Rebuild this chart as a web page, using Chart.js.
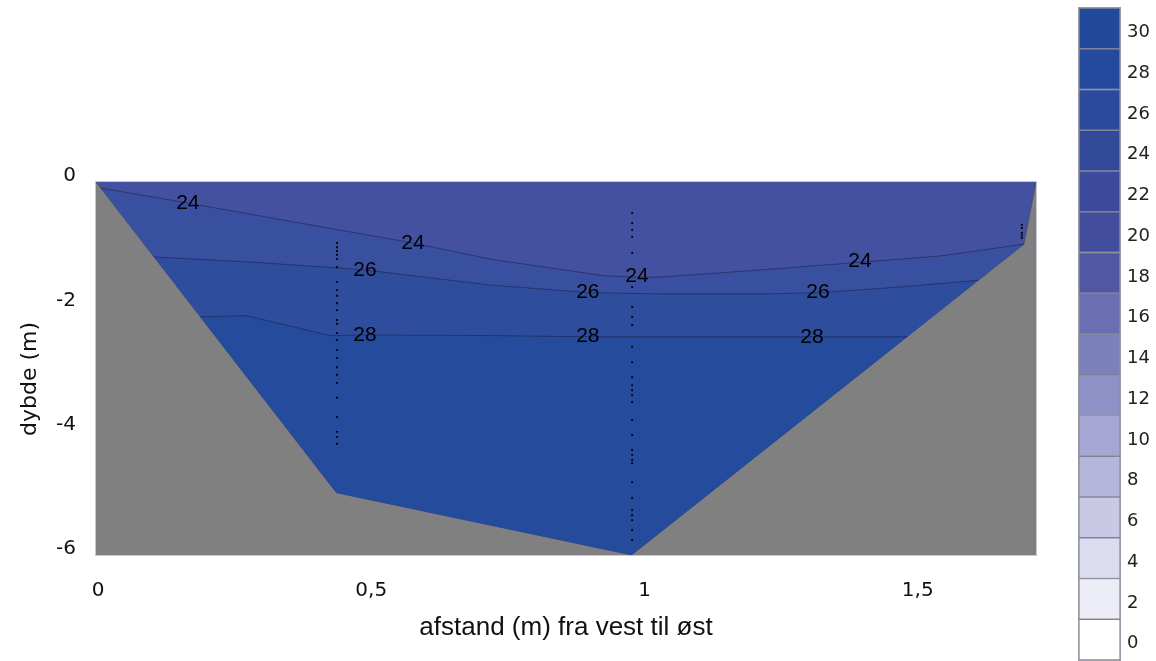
<!DOCTYPE html>
<html>
<head>
<meta charset="utf-8">
<script src="https://cdn.jsdelivr.net/npm/chart.js@4.4.1/dist/chart.umd.min.js"></script>
<style>
  html, body { margin: 0; padding: 0; background: #ffffff; }
  #wrap { position: relative; width: 1156px; height: 661px; overflow: hidden; }
  #main { position: absolute; left: 0; top: 0; }
  #bar { position: absolute; left: 1060px; top: 0; }
</style>
</head>
<body>
<div id="wrap">
  <canvas id="main" width="1060" height="661"></canvas>
  <canvas id="bar" width="96" height="661"></canvas>
</div>
<script>
// ---------- data ----------
const X_TICKS = [0, 0.5, 1, 1.5];
const Y_TICKS = [0, -2, -4, -6];
const X_MAX = 1.72;

// river bed (cross-section outline), distance (m) vs depth (m)
const BED_X = [0, 0.44, 0.98, 1.698, 1.72];
const BED_Y = [0, -5.0, -6.0, -1.0, 0];

// isolines
const C24_X = [0.0085, 0.168, 0.373, 0.580, 0.721, 0.931, 0.990, 1.032, 1.215, 1.400, 1.544, 1.698];
const C24_Y = [-0.097, -0.338, -0.66, -0.98, -1.24, -1.51, -1.53, -1.53, -1.415, -1.29, -1.19, -1.0];
const C26_X = [0.106, 0.282, 0.441, 0.492, 0.721, 0.903, 1.031, 1.228, 1.323, 1.471, 1.615];
const C26_Y = [-1.206, -1.287, -1.383, -1.415, -1.657, -1.78, -1.80, -1.80, -1.78, -1.69, -1.58];
const C28_X = [0.191, 0.276, 0.428, 0.492, 0.721, 0.903, 1.485];
const C28_Y = [-2.167, -2.15, -2.47, -2.46, -2.47, -2.49, -2.49];

// isoline labels
const LABEL_TEXT = ['24', '24', '24', '24', '26', '26', '26', '28', '28', '28'];
const LABEL_X = [0.168, 0.580, 0.990, 1.398, 0.492, 0.900, 1.321, 0.492, 0.900, 1.310];
const LABEL_Y = [-0.338, -0.98, -1.51, -1.27, -1.415, -1.77, -1.77, -2.46, -2.48, -2.49];

// measurement stations (depths of samples)
const STATION_X = [0.441, 0.981, 1.694];
const ST1_DEPTH = [0.98, 1.05, 1.11, 1.17, 1.24, 1.37, 1.61, 1.74, 1.83, 1.95, 2.06, 2.22, 2.28, 2.43, 2.54, 2.70, 2.83, 2.98, 3.10, 3.23, 3.47, 3.78, 4.02, 4.10, 4.21];
const ST2_DEPTH = [0.50, 0.66, 0.77, 0.88, 1.14, 1.69, 2.01, 2.17, 2.30, 2.65, 2.90, 3.14, 3.27, 3.35, 3.43, 3.54, 3.83, 4.07, 4.31, 4.39, 4.47, 4.52, 4.83, 5.08, 5.28, 5.36, 5.44, 5.60, 5.76];
const ST3_DEPTH = [0.69, 0.74, 0.82, 0.86, 0.90];

// colour scale
const LEVELS = [0, 2, 4, 6, 8, 10, 12, 14, 16, 18, 20, 22, 24, 26, 28, 30];
const LEVEL_COLORS = ['#ffffff', '#ededf7', '#dcdcf0', '#c9c9e6', '#b6b6dc', '#a5a6d3', '#8d91c5', '#7c80bb', '#6a6fb1', '#5058a3', '#434d9d', '#3b4a9a', '#334a9a', '#2b4a9b', '#244a9d', '#224a9b'];
const ZONE_COLORS = ['#4451a0', '#38509f', '#2e4d9d', '#244b9c'];
const LAND_COLOR = '#808080';

// ---------- helpers ----------
const pts = (xs, ys) => xs.map((x, i) => ({ x: x, y: ys[i] }));
const stationPts = [];
[ST1_DEPTH, ST2_DEPTH, ST3_DEPTH].forEach((arr, s) => {
  arr.forEach(d => stationPts.push({ x: STATION_X[s], y: -d }));
});

const labelsPlugin = {
  id: 'isoLabels',
  afterDatasetsDraw(chart) {
    const { ctx, scales, chartArea } = chart;
    ctx.save();
    ctx.font = '21px "Liberation Sans", Arial, sans-serif';
    ctx.fillStyle = '#000';
    ctx.textAlign = 'center';
    ctx.textBaseline = 'middle';
    LABEL_TEXT.forEach((t, i) => {
      ctx.fillText(t, scales.x.getPixelForValue(LABEL_X[i]), scales.y.getPixelForValue(LABEL_Y[i]));
    });
    ctx.strokeStyle = '#c8c8d4';
    ctx.lineWidth = 1;
    ctx.strokeRect(chartArea.left - 0.5, chartArea.top - 0.5, chartArea.right - chartArea.left + 1, chartArea.bottom - chartArea.top + 1);
    ctx.restore();
  }
};

const lineDs = (data, extra) => Object.assign({
  data: data, pointRadius: 0, borderWidth: 1, tension: 0
}, extra);

new Chart(document.getElementById('main'), {
  type: 'line',
  data: {
    datasets: [
      lineDs(pts([0, X_MAX], [0, 0]), { fill: 'start', backgroundColor: LAND_COLOR, borderWidth: 0, borderColor: 'rgba(0,0,0,0)', order: 10 }),
      lineDs(pts(BED_X, BED_Y), { fill: 'end', backgroundColor: ZONE_COLORS[0], borderColor: 'rgba(60,60,80,0.45)', order: 9 }),
      lineDs(pts(C24_X, C24_Y), { fill: 1, backgroundColor: ZONE_COLORS[1], borderColor: 'rgba(25,25,60,0.5)', order: 8 }),
      lineDs(pts(C26_X, C26_Y), { fill: 1, backgroundColor: ZONE_COLORS[2], borderColor: 'rgba(25,25,60,0.5)', order: 7 }),
      lineDs(pts(C28_X, C28_Y), { fill: 1, backgroundColor: ZONE_COLORS[3], borderColor: 'rgba(25,25,60,0.5)', order: 6 }),
      { data: stationPts, showLine: false, pointRadius: 1.3, pointStyle: 'rect', pointBackgroundColor: '#000', pointBorderWidth: 0, borderColor: '#000', order: 0 }
    ]
  },
  options: {
    responsive: false,
    animation: false,
    devicePixelRatio: 1,
    events: [],
    layout: { padding: { top: 182, right: 24, left: 0, bottom: 0 } },
    plugins: { legend: { display: false }, tooltip: { enabled: false } },
    scales: {
      x: {
        type: 'linear', min: 0, max: X_MAX,
        grid: { display: false, drawTicks: false },
        border: { display: false },
        afterBuildTicks: s => { s.ticks = X_TICKS.map(v => ({ value: v })); },
        afterFit: s => { s.height = 106; s.paddingLeft = 0; s.paddingRight = 0; },
        ticks: {
          padding: 24, color: '#111', maxRotation: 0, autoSkip: false, labelOffset: 2,
          font: { family: '"DejaVu Sans", Verdana, sans-serif', size: 20 },
          callback: v => String(v).replace('.', ',')
        },
        title: {
          display: true, text: 'afstand (m) fra vest til øst', color: '#111',
          font: { family: '"Liberation Sans", Arial, sans-serif', size: 26 },
          padding: { top: 4, bottom: 18 }
        }
      },
      y: {
        type: 'linear', min: -6, max: 0,
        grid: { display: false, drawTicks: false },
        border: { display: false },
        afterBuildTicks: s => { s.ticks = Y_TICKS.map(v => ({ value: v })); },
        afterFit: s => { s.width = 96; s.paddingTop = 0; s.paddingBottom = 0; },
        ticks: {
          padding: 20, color: '#111', labelOffset: -6, autoSkip: false,
          font: { family: '"DejaVu Sans", Verdana, sans-serif', size: 20 },
          callback: v => String(v)
        },
        title: {
          display: true, text: 'dybde (m)   ', color: '#111',
          font: { family: '"DejaVu Sans", Verdana, sans-serif', size: 22 },
          padding: { top: 17, bottom: 0 }
        }
      }
    }
  },
  plugins: [labelsPlugin]
});

// ---------- colour bar ----------
const barBorderPlugin = {
  id: 'barBorder',
  afterDatasetsDraw(chart) {
    const { ctx, chartArea } = chart;
    ctx.save();
    ctx.strokeStyle = '#9a9aa6';
    ctx.lineWidth = 1;
    ctx.strokeRect(chartArea.left - 0.5, chartArea.top - 0.5, chartArea.right - chartArea.left + 1, chartArea.bottom - chartArea.top + 1);
    ctx.restore();
  }
};

new Chart(document.getElementById('bar'), {
  type: 'bar',
  data: {
    labels: [''],
    datasets: LEVELS.map((lv, i) => ({
      data: [2],
      backgroundColor: LEVEL_COLORS[i],
      borderColor: 'rgba(50,50,75,0.55)',
      borderWidth: 1,
      borderSkipped: false,
      barPercentage: 1,
      categoryPercentage: 1
    }))
  },
  options: {
    responsive: false,
    animation: false,
    devicePixelRatio: 1,
    events: [],
    layout: { padding: { top: 8, right: 0, left: 19, bottom: 1 } },
    plugins: { legend: { display: false }, tooltip: { enabled: false } },
    scales: {
      x: { stacked: true, display: false },
      y: {
        stacked: true, position: 'right', min: 0, max: 32,
        grid: { display: false, drawTicks: false },
        border: { display: false },
        afterBuildTicks: s => { s.ticks = LEVELS.map(v => ({ value: v + 1 })); },
        afterFit: s => { s.width = 36; s.paddingTop = 0; s.paddingBottom = 0; },
        ticks: {
          padding: 7, color: '#222', labelOffset: 4, autoSkip: false,
          font: { family: '"DejaVu Sans", Verdana, sans-serif', size: 18 },
          callback: v => String(v - 1)
        }
      }
    }
  },
  plugins: [barBorderPlugin]
});
</script>
</body>
</html>
